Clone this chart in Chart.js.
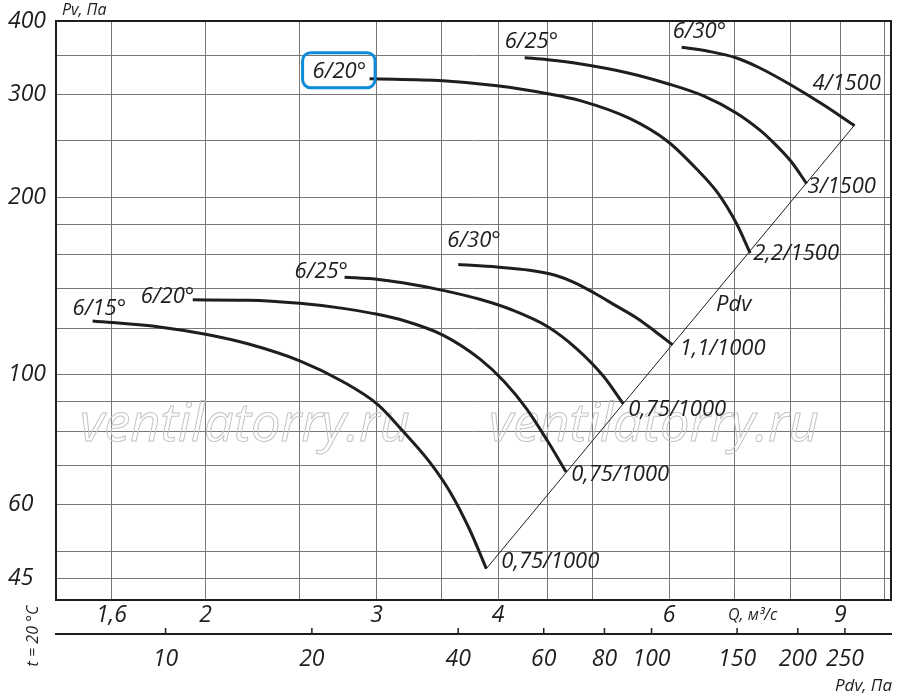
<!DOCTYPE html>
<html>
<head>
<meta charset="utf-8">
<script src="https://cdn.jsdelivr.net/npm/chart.js@4.4.1/dist/chart.umd.min.js"></script>
<style>
  html, body { margin: 0; padding: 0; background: #fff; }
  #wrap { width: 900px; height: 695px; }
</style>
</head>
<body>
<div id="wrap"><canvas id="chart" width="900" height="695"></canvas></div>
<script>
const FONT = "'Open Sans', 'Noto Sans', sans-serif";
const INK = "#1e1e1e";

// Q, m3/s and Pv, Pa, one pair per curve
const qA = [1.53, 1.80, 2.00, 2.21, 2.50, 2.77, 3.01, 3.19, 3.40, 3.57, 3.74, 3.89];
const pA = [123.4, 120.4, 117.1, 112.8, 105.5, 97.2, 88.8, 80.2, 71.0, 63.1, 54.4, 46.7];
const qB = [1.94, 2.21, 2.50, 2.77, 2.97, 3.19, 3.51, 3.83, 4.06, 4.28, 4.49, 4.70];
const pB = [134.0, 133.8, 132.2, 129.6, 127.1, 123.7, 116.7, 106.3, 97.2, 87.4, 77.4, 68.2];
const qC = [2.78, 3.00, 3.19, 3.51, 3.83, 4.13, 4.50, 4.82, 5.13, 5.38];
const pC = [146.5, 145.3, 143.3, 139.1, 134.3, 128.9, 120.6, 110.6, 99.5, 89.2];
const qD = [3.64, 3.99, 4.31, 4.58, 4.80, 5.03, 5.27, 5.56, 5.80, 6.05];
const pD = [153.9, 152.4, 150.5, 147.6, 143.3, 137.5, 131.4, 124.7, 118.5, 112.3];
const qE = [2.95, 3.51, 3.99, 4.50, 4.85, 5.47, 5.98, 6.40, 6.72, 7.04, 7.27];
const pE = [319.0, 316.5, 310.3, 300.8, 293.0, 272.7, 249.4, 224.1, 204.6, 180.6, 161.0];
const qF = [4.26, 4.50, 4.85, 5.43, 5.98, 6.50, 7.04, 7.44, 7.63, 8.00, 8.31];
const pF = [346.4, 343.6, 338.3, 326.6, 312.8, 298.4, 278.6, 260.7, 251.1, 231.2, 211.4];
const qG = [6.18, 6.60, 7.04, 7.43, 8.00, 8.63, 9.31];
const pG = [360.9, 355.0, 346.0, 333.0, 311.5, 288.5, 265.3];

// dynamic pressure line through the curve ends
const qPdv = [3.89, 9.31];
const pPdv = [46.7, 266.0];

const bladeLabels = ["6/15°", "6/20°", "6/25°", "6/30°", "6/20°", "6/25°", "6/30°"];
const motorLabels = ["0,75/1000", "0,75/1000", "0,75/1000", "1,1/1000", "2,2/1500", "3/1500", "4/1500"];

// axes
const qGrid = [1.6, 2, 2.5, 3, 3.5, 4, 4.5, 5, 6, 7, 8, 9, 10];
const qTicks = [1.6, 2, 3, 4, 6, 9];
const qTickText = ["1,6", "2", "3", "4", "6", "9"];
const pGrid = [45, 50, 60, 70, 80, 90, 100, 120, 140, 160, 180, 200, 250, 300, 350, 400];
const pTicks = [45, 60, 100, 200, 300, 400];
const pdvTicks = [10, 20, 40, 60, 80, 100, 150, 200, 250];

const curves = [[qA, pA], [qB, pB], [qC, pC], [qD, pD], [qE, pE], [qF, pF], [qG, pG]];
const toPoints = (qs, ps) => qs.map((q, i) => ({ x: q, y: ps[i] }));

// label offsets from curve start / curve end, px: [dx to text left, dy to text middle]
const startOff = [[-20, -12], [-52, -3], [-50, -5], [-11, -24], [-57, -7], [-20, -16], [-9, -15]];
const endOff = [[15, -7], [5, 3], [5, 6], [7, 4], [3, 1], [1, 3], [-42, -42]];

const decor = {
  id: "decor",
  beforeDatasetsDraw(chart) {
    const { ctx, chartArea: a } = chart;
    const mark = "ventilatorry.ru";
    ctx.save();
    ctx.beginPath();
    ctx.rect(a.left, a.top, a.width, a.height);
    ctx.clip();
    ctx.font = "italic 100px " + FONT;
    const size = 100 * 330 / ctx.measureText(mark).width;
    ctx.font = "italic " + size + "px " + FONT;
    ctx.strokeStyle = "#c4c4c4";
    ctx.lineWidth = 1;
    ctx.textAlign = "center";
    ctx.textBaseline = "alphabetic";
    ctx.strokeText(mark, 245, 441);
    ctx.strokeText(mark, 654, 441);
    ctx.restore();
  },
  afterDraw(chart) {
    const { ctx, chartArea: a, scales } = chart;
    const { x, y, x2 } = scales;
    ctx.save();

    // frame
    ctx.strokeStyle = INK;
    ctx.lineWidth = 2;
    ctx.strokeRect(a.left, a.top, a.right - a.left, a.bottom - a.top);

    // Pdv tick marks pointing up
    ctx.lineWidth = 1.5;
    pdvTicks.forEach(v => {
      const px = x2.getPixelForValue(v);
      ctx.beginPath();
      ctx.moveTo(px, x2.top - 6);
      ctx.lineTo(px, x2.top);
      ctx.stroke();
    });

    ctx.fillStyle = INK;
    ctx.textBaseline = "middle";
    ctx.textAlign = "left";
    ctx.font = "italic 22px " + FONT;

    curves.forEach(([qs, ps], i) => {
      const sx = x.getPixelForValue(qs[0]), sy = y.getPixelForValue(ps[0]);
      const n = qs.length - 1;
      const ex = x.getPixelForValue(qs[n]), ey = y.getPixelForValue(ps[n]);
      const lx = sx + startOff[i][0], ly = sy + startOff[i][1];
      ctx.fillText(bladeLabels[i], lx, ly);
      if (i === 4) {
        const w = ctx.measureText(bladeLabels[i]).width;
        ctx.save();
        ctx.strokeStyle = "#0b8bd9";
        ctx.lineWidth = 3;
        ctx.beginPath();
        ctx.roundRect(lx - 10, ly - 19, w + 19, 35, 8);
        ctx.stroke();
        ctx.restore();
      }
      ctx.fillText(motorLabels[i], ex + endOff[i][0], ey + endOff[i][1]);
    });

    // "Pdv" beside the dynamic pressure line
    const d0x = x.getPixelForValue(qPdv[0]), d0y = y.getPixelForValue(pPdv[0]);
    const d1x = x.getPixelForValue(qPdv[1]), d1y = y.getPixelForValue(pPdv[1]);
    const t = 0.594;
    ctx.fillText("Pdv", d0x + (d1x - d0x) * t + 11, d0y + (d1y - d0y) * t);

    // small captions
    ctx.font = "italic 16px " + FONT;
    ctx.fillText("Pv, Па", 62, 10);
    ctx.fillText("Q, м³/с", 728, 615);
    ctx.textAlign = "right";
    ctx.font = "italic 17px " + FONT;
    ctx.fillText("Pdv, Па", 892, 686);

    ctx.translate(33, 636);
    ctx.rotate(-Math.PI / 2);
    ctx.textAlign = "center";
    ctx.font = "italic 16px " + FONT;
    ctx.fillText("t = 20 °C", 0, 0);
    ctx.restore();
  }
};

const datasets = curves.map(([qs, ps]) => ({
  data: toPoints(qs, ps),
  borderColor: INK,
  borderWidth: 3,
  pointRadius: 0,
  fill: false,
  cubicInterpolationMode: "monotone",
  xAxisID: "x",
  yAxisID: "y"
}));
datasets.push({
  data: toPoints(qPdv, pPdv),
  borderColor: INK,
  borderWidth: 1,
  pointRadius: 0,
  fill: false,
  tension: 0,
  xAxisID: "x",
  yAxisID: "y"
});

const tickFont = { family: FONT, size: 23, style: "italic" };

new Chart(document.getElementById("chart"), {
  type: "line",
  data: { datasets },
  plugins: [decor],
  options: {
    responsive: false,
    animation: false,
    events: [],
    layout: { padding: { left: 8, top: 21, right: 9, bottom: 0 } },
    plugins: { legend: { display: false }, tooltip: { enabled: false } },
    scales: {
      x: {
        type: "logarithmic",
        position: "bottom",
        weight: 0,
        min: 1.403,
        max: 10.15,
        afterBuildTicks: s => { s.ticks = qGrid.map(v => ({ value: v })); },
        afterFit: s => { s.height = 34; },
        grid: { color: "#777", lineWidth: 1, drawTicks: false },
        border: { display: false },
        ticks: {
          autoSkip: false,
          maxRotation: 0,
          padding: 2,
          color: INK,
          font: tickFont,
          callback: v => {
            const i = qTicks.indexOf(v);
            return i < 0 ? "" : qTickText[i];
          }
        }
      },
      x2: {
        type: "logarithmic",
        position: "bottom",
        weight: 1,
        min: 5.95,
        max: 311,
        afterBuildTicks: s => { s.ticks = pdvTicks.map(v => ({ value: v })); },
        afterFit: s => { s.height = 61; },
        grid: { drawOnChartArea: false, drawTicks: false },
        border: { display: true, color: INK, width: 2 },
        ticks: {
          autoSkip: false,
          maxRotation: 0,
          padding: 12,
          color: INK,
          font: tickFont,
          callback: v => String(v)
        }
      },
      y: {
        type: "logarithmic",
        position: "left",
        min: 41.3,
        max: 400,
        afterBuildTicks: s => { s.ticks = pGrid.map(v => ({ value: v })); },
        afterFit: s => { s.width = 48; },
        grid: { color: "#777", lineWidth: 1, drawTicks: false },
        border: { display: false },
        ticks: {
          autoSkip: false,
          crossAlign: "far",
          padding: 0,
          color: INK,
          font: tickFont,
          callback: v => (pTicks.includes(v) ? String(v) : "")
        }
      }
    }
  }
});
</script>
</body>
</html>
